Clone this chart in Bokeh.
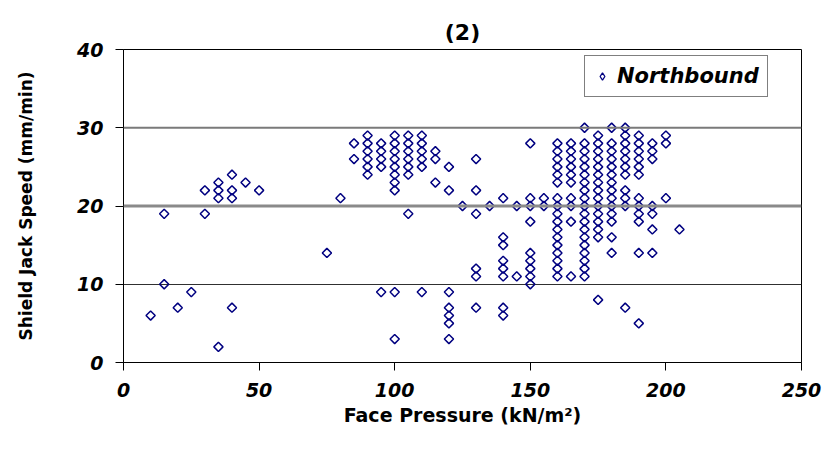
import math
from bokeh.plotting import figure
from bokeh.models import Range1d, FixedTicker, Span, Legend, LegendItem
from bokeh.embed import file_html
from bokeh.resources import INLINE

# Face pressure (kN/m^2) and shield jack speed (mm/min), Northbound
face_pressure = (
    [10] + [15, 15] + [20] + [25] + [30, 30] + [35] * 4 + [40] * 4 + [45] + [50]
    + [75] + [80] + [85] * 2 + [90] * 6 + [95] * 5 + [100] * 10 + [105] * 7
    + [110] * 6 + [115] * 3 + [120] * 7 + [125] + [130] * 6 + [135] + [140] * 8
    + [145] * 2 + [150] * 9 + [155] * 2 + [160] * 17 + [165] * 10 + [170] * 19
    + [175] * 15 + [180] * 14 + [185] * 11 + [190] * 12 + [195] * 7 + [200] * 3
    + [205]
)
jack_speed = (
    [6] + [19, 10] + [7] + [9] + [22, 19] + [23, 22, 21, 2] + [24, 22, 21, 7] + [23] + [22]
    + [14] + [21] + [28, 26] + [29, 28, 27, 26, 25, 24] + [28, 27, 26, 25, 9]
    + [29, 28, 27, 26, 25, 24, 23, 22, 9, 3] + [29, 28, 27, 26, 25, 24, 19]
    + [29, 28, 27, 26, 25, 9] + [27, 26, 23] + [25, 22, 9, 7, 6, 5, 3] + [20]
    + [26, 22, 19, 12, 11, 7] + [20] + [21, 16, 15, 13, 12, 11, 7, 6]
    + [20, 11] + [28, 21, 20, 18, 14, 13, 12, 11, 10] + [21, 20]
    + [28, 27, 26, 25, 24, 23, 21, 20, 19, 18, 17, 16, 15, 14, 13, 12, 11]
    + [28, 27, 26, 25, 24, 23, 21, 20, 18, 11]
    + [30, 28, 27, 26, 25, 24, 23, 22, 21, 20, 19, 18, 17, 16, 15, 14, 13, 12, 11]
    + [29, 28, 27, 26, 25, 24, 23, 22, 21, 20, 19, 18, 17, 16, 8]
    + [30, 28, 27, 26, 25, 24, 23, 22, 21, 20, 19, 18, 16, 14]
    + [30, 29, 28, 27, 26, 25, 24, 22, 21, 20, 7]
    + [29, 28, 27, 26, 25, 24, 21, 20, 19, 18, 14, 5]
    + [28, 27, 26, 20, 19, 17, 14] + [29, 28, 21] + [17]
)
x_ticks = [0, 50, 100, 150, 200, 250]
y_ticks = [0, 10, 20, 30, 40]

FONT = "DejaVu Sans"
NAVY = "#000080"

p = figure(width=832, height=455, output_backend="svg", toolbar_location=None,
           x_range=Range1d(0, 250), y_range=Range1d(0, 40),
           min_border_left=123, min_border_right=31, min_border_top=49,
           min_border_bottom=93, title="(2)")
p.background_fill_color = "white"
p.border_fill_color = "white"
p.outline_line_color = "black"
p.outline_line_width = 1

p.title.align = "center"
p.title.text_font = FONT
p.title.text_font_size = "22px"
p.title.text_font_style = "bold"
p.title.text_color = "black"
p.title.standoff = 9

p.xgrid.visible = False
p.ygrid.ticker = FixedTicker(ticks=[10])
p.ygrid.grid_line_color = "#303030"
p.ygrid.grid_line_width = 1
p.add_layout(Span(location=30, dimension="width", line_color="#7a7a7a", line_width=2))
p.add_layout(Span(location=20, dimension="width", line_color="#8a8a8a", line_width=3))

for ax, ticks in ((p.xaxis, x_ticks), (p.yaxis, y_ticks)):
    ax.ticker = FixedTicker(ticks=ticks)
    ax.minor_tick_line_color = None
    ax.major_tick_in = 0
    ax.major_tick_out = 8
    ax.axis_line_color = "black"
    ax.major_tick_line_color = "black"
    ax.major_label_text_font = FONT
    ax.major_label_text_font_size = "19px"
    ax.major_label_text_font_style = "bold italic"
    ax.major_label_text_color = "black"
    ax.major_label_standoff = 12
    ax.axis_label_text_font = FONT
    ax.axis_label_text_font_style = "bold"
    ax.axis_label_text_color = "black"

p.xaxis.axis_label = "Face Pressure (kN/m\u00b2)"
p.yaxis.axis_label = "Shield Jack Speed (mm/min)"
p.xaxis.axis_label_text_font_size = "19px"
p.yaxis.axis_label_text_font_size = "17px"
p.xaxis.axis_label_standoff = 4
p.yaxis.axis_label_standoff = 38

p.scatter(face_pressure, jack_speed, marker="square", angle=math.pi / 4,
          size=6.5, fill_color=None, line_color=NAVY, line_width=1.5)

# legend-only swatch (a NaN placeholder, never drawn in the plot area)
nan = float("nan")
swatch = p.scatter([nan], [nan], marker="diamond", fill_color=None,
                   line_color=NAVY, line_width=1.3)

legend = Legend(items=[LegendItem(label="Northbound", renderers=[swatch], index=0)],
                location=(461, 265), padding=8, spacing=0,
                glyph_width=18, glyph_height=18, label_standoff=6,
                label_text_font=FONT, label_text_font_size="21px",
                label_text_font_style="bold italic", label_text_color="black",
                label_height=24,
                border_line_color="black", border_line_width=1,
                background_fill_alpha=1.0, margin=0)
p.add_layout(legend, "center")

open("out.html", "w").write(file_html(p, INLINE))
